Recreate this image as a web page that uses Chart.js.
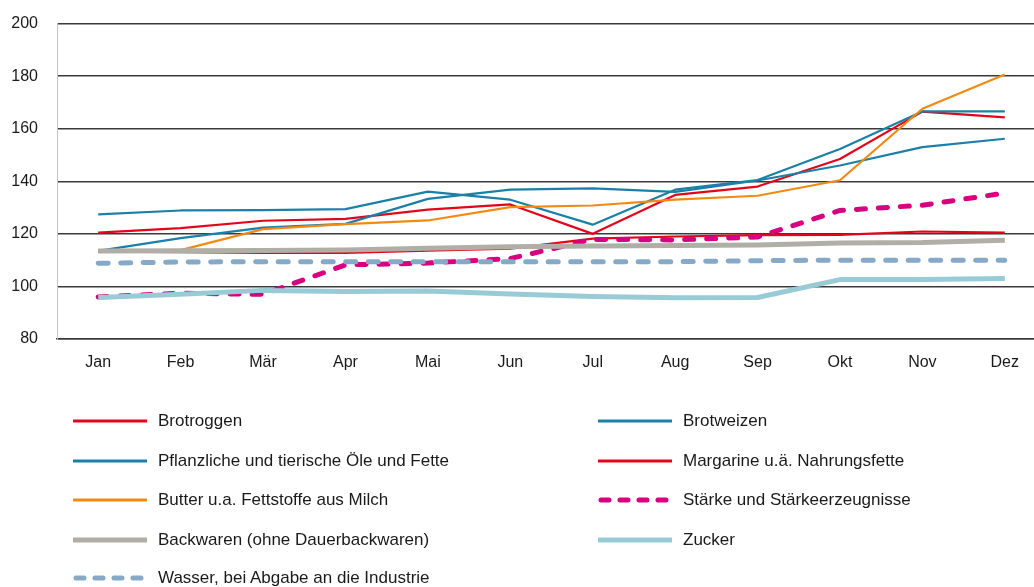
<!DOCTYPE html>
<html lang="de">
<head>
<meta charset="utf-8">
<title>Preisindex</title>
<script src="https://cdn.jsdelivr.net/npm/chart.js@4"></script>
<style>
  html, body { margin: 0; padding: 0; background: #fff; overflow: hidden; }
  body { width: 1034px; height: 587px; position: relative;
         font-family: "Liberation Sans", Arial, sans-serif; color: #1a1a1a; }
  /* Diagramm etwas breiter als das Fenster, rechter Rand abgeschnitten wie im Original */
  #wrap { position: absolute; left: 0; top: -5px; width: 1050px; height: 387px; }
  #legend { position: absolute; left: 0; top: 0; width: 1034px; height: 587px; pointer-events: none; }
  .item { position: absolute; height: 20px; display: flex; align-items: center; font-size: 17px; white-space: nowrap; }
  .item svg { margin-right: 11px; }
</style>
</head>
<body>
<div id="wrap"><canvas id="chart"></canvas></div>
<div id="legend"></div>
<script>
// Monate
const months = ["Jan", "Feb", "Mär", "Apr", "Mai", "Jun", "Jul", "Aug", "Sep", "Okt", "Nov", "Dez"];
const yTicks = [80, 100, 120, 140, 160, 180, 200];

// Werte
const brotroggen = [120.5, 122.2, 125, 125.7, 129.2, 131.2, 120, 134.8, 138, 148.5, 166.5, 164.3];
const brotweizen = [127.4, 128.9, 129, 129.4, 136.1, 133, 123.5, 136.8, 140.5, 152.3, 166.6, 166.6];
const oeleFette = [113.5, 118.4, 122.4, 123.8, 133.3, 136.8, 137.3, 136, 140.3, 146, 153, 156.2];
const margarine = [113.2, 113, 112.8, 112.8, 113.6, 114.4, 118.2, 119, 119.5, 119.6, 120.9, 120.5];
const butter = [113.5, 113.8, 121.8, 123.7, 125.1, 130.2, 130.8, 133, 134.5, 140.4, 167.6, 180.6];
const staerke = [96, 97.4, 97, 108.2, 108.9, 110.6, 117.9, 117.7, 118.8, 128.9, 130.9, 135.5];
const backwaren = [113.5, 113.6, 113.7, 113.9, 114.5, 115.1, 115.4, 115.6, 115.8, 116.5, 116.7, 117.6];
const zucker = [95.8, 97, 98.5, 98.1, 98.3, 97.1, 96.2, 95.7, 95.8, 102.6, 102.6, 103];
const wasser = [108.8, 109.3, 109.4, 109.4, 109.4, 109.4, 109.4, 109.4, 109.8, 110, 110, 110];

const series = [
  { label: "Brotroggen", data: brotroggen, color: "#e3061b", width: 2.2 },
  { label: "Brotweizen", data: brotweizen, color: "#1b80a8", width: 2.2 },
  { label: "Pflanzliche und tierische Öle und Fette", data: oeleFette, color: "#1b80a8", width: 2.2 },
  { label: "Margarine u.ä. Nahrungsfette", data: margarine, color: "#e3061b", width: 2.2 },
  { label: "Butter u.a. Fettstoffe aus Milch", data: butter, color: "#f28a12", width: 2.2 },
  { label: "Stärke und Stärkeerzeugnisse", data: staerke, color: "#d8007f", width: 5, dash: [9, 13] },
  { label: "Backwaren (ohne Dauerbackwaren)", data: backwaren, color: "#b0aea6", width: 5 },
  { label: "Zucker", data: zucker, color: "#98cbd6", width: 5 },
  { label: "Wasser, bei Abgabe an die Industrie", data: wasser, color: "#85a9c6", width: 5, dash: [10, 12.5] }
];

const fontFamily = '"Liberation Sans", Arial, sans-serif';

new Chart(document.getElementById("chart"), {
  type: "line",
  data: {
    labels: months,
    datasets: series.map((s, i) => ({
      label: s.label,
      data: s.data,
      borderColor: s.color,
      backgroundColor: s.color,
      borderWidth: s.width,
      borderDash: s.dash || [],
      borderCapStyle: s.dash ? "round" : "butt",
      borderJoinStyle: "round",
      pointRadius: 0,
      tension: 0,
      order: series.length - i // spätere Reihen oben
    }))
  },
  options: {
    responsive: true,
    maintainAspectRatio: false,
    animation: false,
    layout: { padding: { top: 24, right: 4, left: 0, bottom: 0 } },
    plugins: { legend: { display: false }, tooltip: { enabled: false } },
    scales: {
      x: {
        offset: true,
        grid: { display: false, drawTicks: false },
        border: { display: true, color: "#3a3a3a", width: 1.5 },
        ticks: { color: "#1a1a1a", padding: 14, font: { family: fontFamily, size: 16 } },
        afterFit: (scale) => { scale.height = 43; }
      },
      y: {
        min: 80,
        max: 200,
        afterBuildTicks: (scale) => { scale.ticks = yTicks.map(v => ({ value: v })); },
        grid: { color: "#3a3a3a", lineWidth: 1.5, drawTicks: false },
        border: { display: true, color: "#c4c4c4", width: 1 },
        ticks: { color: "#1a1a1a", padding: 19, font: { family: fontFamily, size: 16 } },
        afterFit: (scale) => { scale.width = 57; }
      }
    }
  }
});

// Legende: zwei Spalten
const legend = document.getElementById("legend");
const colX = [73, 598];
const rowY = [421, 461, 500, 540, 578];
series.forEach((s, i) => {
  const el = document.createElement("div");
  el.className = "item";
  el.style.left = colX[i % 2] + "px";
  el.style.top = (rowY[Math.floor(i / 2)] - 10) + "px";
  const w = s.width > 3 ? 5 : 3;
  const dash = s.dash ? 'stroke-dasharray="8 11" stroke-linecap="round"' : "";
  el.innerHTML =
    '<svg width="74" height="10"><line x1="' + (s.dash ? 3 : 0) + '" y1="5" x2="' + (s.dash ? 71 : 74) +
    '" y2="5" stroke="' + s.color + '" stroke-width="' + w + '" ' + dash + '/></svg>' +
    "<span>" + s.label + "</span>";
  legend.appendChild(el);
});
</script>
</body>
</html>
